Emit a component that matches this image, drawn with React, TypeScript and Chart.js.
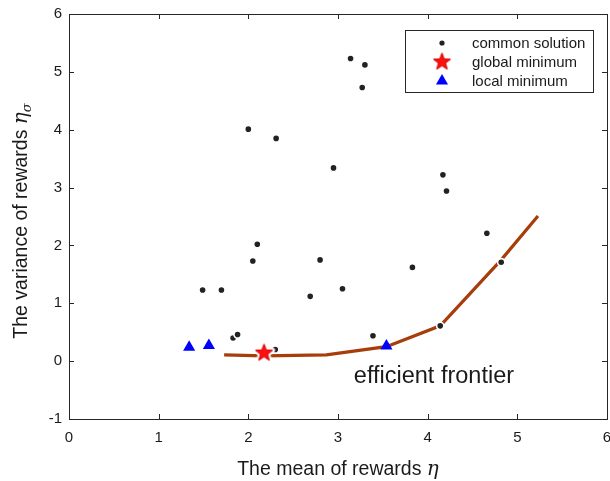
import { useEffect, useRef } from 'react';
import { Chart, registerables } from 'chart.js';
Chart.register(...registerables);

// ---- data ----
const commonX = [3.14, 3.30, 3.27, 2.00, 2.31, 2.95, 4.17, 4.21, 4.66, 2.10, 2.05, 2.80, 3.83, 4.82, 1.49, 1.70, 2.69, 3.05, 1.83, 1.88, 2.30, 3.39, 4.14];
const commonY = [5.23, 5.12, 4.73, 4.01, 3.85, 3.34, 3.22, 2.94, 2.21, 2.02, 1.73, 1.75, 1.62, 1.71, 1.23, 1.23, 1.12, 1.25, 0.40, 0.46, 0.20, 0.44, 0.61];
const globalX = [2.175];
const globalY = [0.14];
const localX = [1.34, 1.56, 3.54];
const localY = [0.24, 0.27, 0.26];
const frontierX = [1.73, 2.17, 2.87, 3.54, 4.14, 4.82, 5.23];
const frontierY = [0.11, 0.09, 0.11, 0.25, 0.61, 1.75, 2.51];
const xTicks = [0, 1, 2, 3, 4, 5, 6];
const yTicks = [-1, 0, 1, 2, 3, 4, 5, 6];
const seriesLabels = ['common solution', 'global minimum', 'local minimum'];
const frontierLabel = 'efficient frontier';
const frontierLabelPos = [4.07, -0.27];
const xTitle = 'The mean of rewards ';
const yTitle = 'The variance of rewards ';

const SANS = '"Liberation Sans", Arial, Helvetica, sans-serif';
const SERIF = '"DejaVu Serif", "Liberation Serif", serif';
const TXT = '#1a1a1a';

function makeStar(r: number, halo: number) {
  const size = Math.ceil((r + halo) * 2 + 2);
  const c = document.createElement('canvas');
  c.width = size;
  c.height = size;
  const g = c.getContext('2d')!;
  const cx = size / 2, cy = size / 2;
  const path = () => {
    g.beginPath();
    for (let i = 0; i < 10; i++) {
      const rr = i % 2 === 0 ? r : r * 0.42;
      const a = -Math.PI / 2 + (i * Math.PI) / 5;
      g.lineTo(cx + rr * Math.cos(a), cy + rr * Math.sin(a));
    }
    g.closePath();
  };
  if (halo > 0) {
    path();
    g.strokeStyle = '#ffffff';
    g.lineWidth = halo * 2;
    g.lineJoin = 'round';
    g.stroke();
  }
  path();
  g.fillStyle = '#ff1010';
  g.fill();
  g.strokeStyle = '#d40000';
  g.lineWidth = 1;
  g.stroke();
  return c;
}

const overlay = {
  id: 'overlay',
  afterDraw(chart: any) {
    const ctx = chart.ctx as CanvasRenderingContext2D;
    const a = chart.chartArea;
    const xs = chart.scales.x, ys = chart.scales.y;
    ctx.save();
    // box
    ctx.strokeStyle = '#262626';
    ctx.lineWidth = 1;
    ctx.strokeRect(Math.round(a.left) + 0.5, Math.round(a.top) + 0.5, Math.round(a.right - a.left), Math.round(a.bottom - a.top));
    // inward ticks
    ctx.beginPath();
    const tl = 5;
    xTicks.forEach((v) => {
      const px = Math.round(xs.getPixelForValue(v)) + 0.5;
      ctx.moveTo(px, a.bottom); ctx.lineTo(px, a.bottom - tl);
      ctx.moveTo(px, a.top); ctx.lineTo(px, a.top + tl);
    });
    yTicks.forEach((v) => {
      const py = Math.round(ys.getPixelForValue(v)) + 0.5;
      ctx.moveTo(a.left, py); ctx.lineTo(a.left + tl, py);
      ctx.moveTo(a.right, py); ctx.lineTo(a.right - tl, py);
    });
    ctx.stroke();

    // frontier annotation
    ctx.fillStyle = TXT;
    ctx.font = `23.5px ${SANS}`;
    ctx.textAlign = 'center';
    ctx.textBaseline = 'middle';
    ctx.fillText(frontierLabel, xs.getPixelForValue(frontierLabelPos[0]), ys.getPixelForValue(frontierLabelPos[1]));

    // x title
    ctx.textAlign = 'left';
    ctx.textBaseline = 'alphabetic';
    const tFont = `19.5px ${SANS}`;
    const eFont = `italic 20px ${SERIF}`;
    ctx.font = tFont;
    const w1 = ctx.measureText(xTitle).width;
    ctx.font = eFont;
    const w2 = ctx.measureText('η').width;
    const cx = (a.left + a.right) / 2;
    const x0 = cx - (w1 + w2) / 2;
    const by = 475;
    ctx.font = tFont;
    ctx.fillText(xTitle, x0, by);
    ctx.font = eFont;
    ctx.fillText('η', x0 + w1, by);

    // y title
    ctx.save();
    ctx.translate(27, 221);
    ctx.rotate(-Math.PI / 2);
    ctx.font = tFont;
    const v1 = ctx.measureText(yTitle).width;
    ctx.font = eFont;
    const v2 = ctx.measureText('η').width;
    const sFont = `italic 13px ${SERIF}`;
    ctx.font = sFont;
    const v3 = ctx.measureText('σ').width;
    const s0 = -(v1 + v2 + v3) / 2;
    ctx.font = tFont;
    ctx.fillText(yTitle, s0, 0);
    ctx.font = eFont;
    ctx.fillText('η', s0 + v1, 0);
    ctx.font = sFont;
    ctx.fillText('σ', s0 + v1 + v2, 4);
    ctx.restore();

    // legend
    const lw = 188, lh = 62;
    const lx = a.right - 14 - lw;
    const ly = a.top + 16;
    ctx.fillStyle = '#ffffff';
    ctx.fillRect(lx, ly, lw, lh);
    ctx.strokeStyle = '#262626';
    ctx.strokeRect(Math.round(lx) + 0.5, Math.round(ly) + 0.5, lw, lh);
    const rows = chart.data.datasets.filter((d: any) => seriesLabels.includes(d.label));
    rows.sort((p: any, q: any) => seriesLabels.indexOf(p.label) - seriesLabels.indexOf(q.label));
    rows.forEach((d: any, i: number) => {
      const my = ly + 13 + i * 19;
      const mx = lx + 37;
      const st = d.pointStyle;
      if (st instanceof HTMLCanvasElement) {
        ctx.drawImage(st, mx - st.width / 2, my - st.height / 2);
      } else if (st === 'triangle') {
        const r = d.pointRadius;
        ctx.beginPath();
        ctx.moveTo(mx, my - r);
        ctx.lineTo(mx + r * Math.sin((2 * Math.PI) / 3), my - r * Math.cos((2 * Math.PI) / 3));
        ctx.lineTo(mx - r * Math.sin((2 * Math.PI) / 3), my - r * Math.cos((2 * Math.PI) / 3));
        ctx.closePath();
        ctx.fillStyle = d.backgroundColor;
        ctx.fill();
      } else {
        ctx.beginPath();
        ctx.arc(mx, my, 2.6, 0, Math.PI * 2);
        ctx.fillStyle = d.backgroundColor;
        ctx.fill();
      }
      ctx.fillStyle = TXT;
      ctx.font = `15px ${SANS}`;
      ctx.textAlign = 'left';
      ctx.textBaseline = 'middle';
      ctx.fillText(d.label, lx + 67, my + 1);
    });
    ctx.restore();
  },
};

export default function App() {
  const ref = useRef<HTMLCanvasElement>(null);
  useEffect(() => {
    document.body.style.margin = '0';
    const star = makeStar(9, 2.5);
    const toPts = (xs: number[], ys: number[]) => xs.map((x, i) => ({ x, y: ys[i] }));
    const chart = new Chart(ref.current!, {
      type: 'scatter',
      data: {
        datasets: [
          {
            label: frontierLabel,
            type: 'line',
            data: toPts(frontierX, frontierY),
            showLine: true,
            borderColor: '#a63d0a',
            borderWidth: 3.2,
            pointRadius: 0,
            fill: false,
            order: 10,
          } as any,
          {
            label: seriesLabels[0],
            data: toPts(commonX, commonY),
            pointStyle: 'circle',
            pointRadius: 3.6,
            backgroundColor: '#222222',
            borderColor: '#ffffff',
            borderWidth: 1.6,
            order: 3,
          },
          {
            label: seriesLabels[1],
            data: toPts(globalX, globalY),
            pointStyle: star,
            pointRadius: 9,
            backgroundColor: '#ff1010',
            order: 1,
          },
          {
            label: seriesLabels[2],
            data: toPts(localX, localY),
            pointStyle: 'triangle',
            pointRadius: 7,
            backgroundColor: '#0000ff',
            borderColor: '#0000ff',
            borderWidth: 0,
            order: 2,
          },
        ],
      },
      options: {
        animation: false,
        responsive: false,
        layout: { autoPadding: false, padding: { top: 14, right: 3, left: 0, bottom: 0 } },
        plugins: { legend: { display: false }, tooltip: { enabled: false } },
        scales: {
          x: {
            type: 'linear',
            min: 0,
            max: 6,
            afterBuildTicks: (s: any) => { s.ticks = xTicks.map((v) => ({ value: v })); },
            grid: { display: false, drawTicks: false },
            border: { display: false },
            ticks: { color: TXT, font: { family: SANS, size: 15 }, padding: 10, maxRotation: 0, autoSkip: false },
            afterFit: (s: any) => { s.height = 62; s.paddingLeft = 0; s.paddingRight = 0; },
          },
          y: {
            type: 'linear',
            min: -1,
            max: 6,
            afterBuildTicks: (s: any) => { s.ticks = yTicks.map((v) => ({ value: v })); },
            grid: { display: false, drawTicks: false },
            border: { display: false },
            ticks: { color: TXT, font: { family: SANS, size: 15 }, padding: 7, autoSkip: false },
            afterFit: (s: any) => { s.width = 69; s.paddingTop = 0; s.paddingBottom = 0; },
          },
        },
      },
      plugins: [overlay],
    });
    return () => chart.destroy();
  }, []);
  return <canvas ref={ref} width={610} height={481} style={{ display: 'block' }} />;
}
